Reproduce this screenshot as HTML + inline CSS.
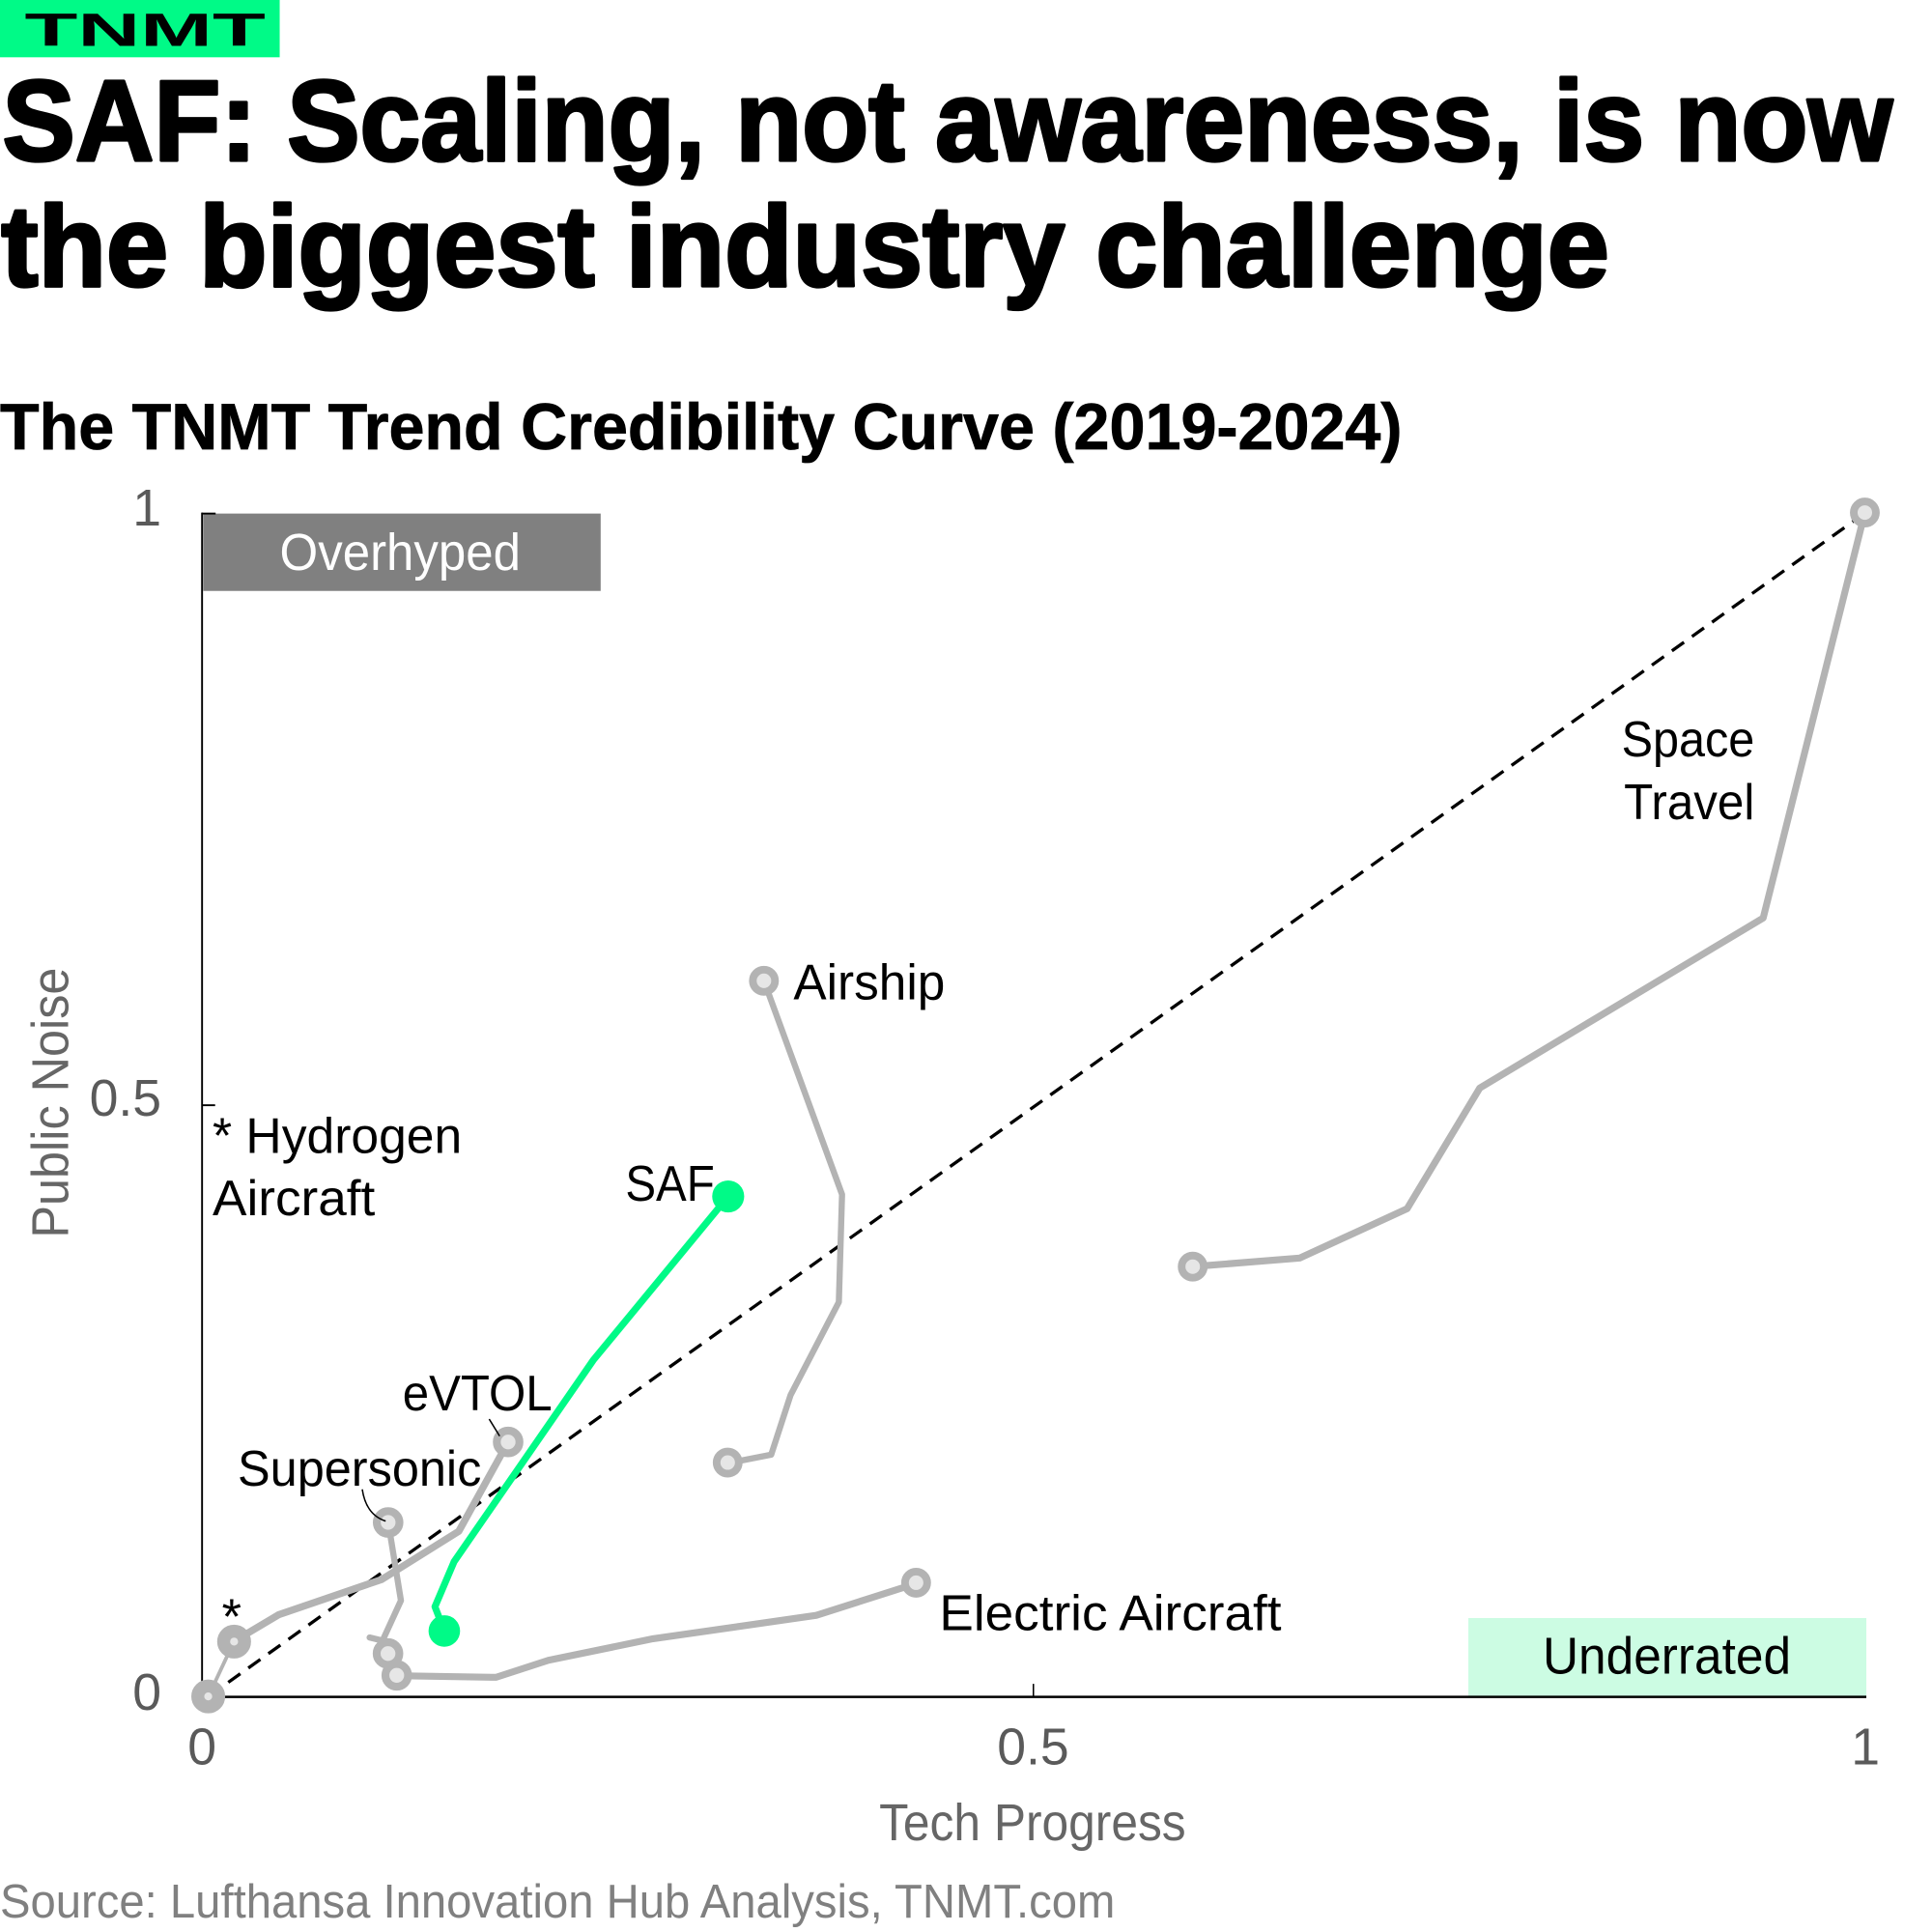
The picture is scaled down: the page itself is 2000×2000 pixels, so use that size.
<!DOCTYPE html>
<html>
<head>
<meta charset="utf-8">
<style>
  html, body { margin: 0; padding: 0; background: #ffffff; }
  svg { display: block; }
  text { font-family: "Liberation Sans", Arial, sans-serif; }
</style>
</head>
<body>
<svg xmlns="http://www.w3.org/2000/svg" width="2000" height="2000" viewBox="0 0 1568 1568">
  <rect x="0" y="0" width="1568" height="1568" fill="#ffffff"/>

  <!-- Logo -->
  <rect x="0" y="0" width="227" height="46.5" fill="#00FA87"/>
  <text x="20" y="37.4" font-size="38" font-weight="bold" fill="#000" textLength="195.5" lengthAdjust="spacingAndGlyphs">TNMT</text>

  <!-- Title -->
  <g stroke="#000" stroke-width="2.6" stroke-linejoin="round">
    <text x="2" y="130" font-size="93.5" font-weight="bold" fill="#000" textLength="1534" lengthAdjust="spacingAndGlyphs">SAF: Scaling, not awareness, is now</text>
    <text x="1" y="232" font-size="93.5" font-weight="bold" fill="#000" textLength="1305" lengthAdjust="spacingAndGlyphs">the biggest industry challenge</text>
  </g>

  <!-- Subtitle -->
  <text x="0" y="364.6" font-size="53" font-weight="bold" fill="#000" stroke="#000" stroke-width="0.6" textLength="1138" lengthAdjust="spacingAndGlyphs">The TNMT Trend Credibility Curve (2019-2024)</text>

  <!-- Quadrant boxes -->
  <rect x="165" y="416.8" width="322.5" height="62.8" fill="#808080"/>
  <text x="227" y="462.6" font-size="42" fill="#ffffff" textLength="195.6" lengthAdjust="spacingAndGlyphs">Overhyped</text>
  <rect x="1191.7" y="1313.2" width="323" height="64" fill="#CCFCE3"/>
  <text x="1252" y="1358.4" font-size="42" fill="#000" textLength="201.6" lengthAdjust="spacingAndGlyphs">Underrated</text>

  <!-- Axes -->
  <line x1="164" y1="416" x2="164" y2="1378" stroke="#000" stroke-width="1.5"/>
  <line x1="163.2" y1="1377.2" x2="1514.7" y2="1377.2" stroke="#000" stroke-width="2"/>
  <line x1="164" y1="416.8" x2="175" y2="416.8" stroke="#000" stroke-width="1.5"/>
  <line x1="164" y1="897" x2="174.6" y2="897" stroke="#000" stroke-width="1.5"/>
  <line x1="838.7" y1="1366.6" x2="838.7" y2="1377" stroke="#000" stroke-width="1.2"/>

  <!-- Tick labels -->
  <g font-size="42" fill="#5a5a5a">
    <text x="131" y="426.5" text-anchor="end">1</text>
    <text x="131" y="905.5" text-anchor="end">0.5</text>
    <text x="131" y="1387.7" text-anchor="end">0</text>
    <text x="164" y="1432" text-anchor="middle">0</text>
    <text x="838.5" y="1432" text-anchor="middle">0.5</text>
    <text x="1514" y="1432" text-anchor="middle">1</text>
  </g>

  <!-- Axis titles -->
  <text x="838" y="1493.5" font-size="42" fill="#666" text-anchor="middle" textLength="249" lengthAdjust="spacingAndGlyphs">Tech Progress</text>
  <text transform="translate(55.4,895) rotate(-90)" x="0" y="0" font-size="42" fill="#666" text-anchor="middle" textLength="219.5" lengthAdjust="spacingAndGlyphs">Public Noise</text>

  <!-- Source -->
  <text x="0" y="1556.3" font-size="38.5" fill="#808080" textLength="905" lengthAdjust="spacingAndGlyphs">Source: Lufthansa Innovation Hub Analysis, TNMT.com</text>

  <!-- Diagonal dashed line -->
  <line x1="169" y1="1377" x2="1514" y2="416" stroke="#000" stroke-width="2.6" stroke-dasharray="12 8"/>

  <!-- Gray series -->
  <g fill="none" stroke="#b3b3b3" stroke-linejoin="round" stroke-linecap="round">
    <line x1="169" y1="1377" x2="190" y2="1332" stroke-width="3"/>
    <polyline stroke-width="5.8" points="190,1332 226,1310.6 309.7,1281.9 372.4,1242.7 412.4,1170.3"/>
    <polyline stroke-width="5" points="315,1235 325.4,1299 310.5,1331.5 300,1329"/>
    <polyline stroke-width="5.6" points="322,1360 402.5,1361.3 445,1347.5 530,1330 662.5,1311 744,1285"/>
    <polyline stroke-width="5" points="620,796 683.4,969.4 680.8,1056.8 641.6,1132.3 625.9,1180.6 590.6,1187.5"/>
    <polyline stroke-width="5.6" points="968,1028 1055,1021 1142,981 1201,883 1431,745 1513.5,416"/>
  </g>

  <!-- SAF green series -->
  <polyline fill="none" stroke="#00FA87" stroke-width="5.6" stroke-linejoin="round" stroke-linecap="round" points="360.6,1323.7 353,1304 368.5,1267.5 481.4,1104 591,971"/>

  <!-- Gray markers -->
  <g fill="#e6e6e6" stroke="#b3b3b3">
    <circle cx="169" cy="1376.8" r="8.5" stroke-width="10.5"/>
    <circle cx="190" cy="1332.3" r="8.5" stroke-width="10.5"/>
    <circle cx="315" cy="1235.6" r="9.2" stroke-width="6.4"/>
    <circle cx="412.4" cy="1170.3" r="9.2" stroke-width="6.4"/>
    <circle cx="314.9" cy="1342" r="9.2" stroke-width="6.4"/>
    <circle cx="322" cy="1359.7" r="9.2" stroke-width="6.4"/>
    <circle cx="743.5" cy="1284.5" r="9" stroke-width="6.2"/>
    <circle cx="620" cy="796" r="9" stroke-width="6.2"/>
    <circle cx="590.6" cy="1187" r="9" stroke-width="6.2"/>
    <circle cx="968" cy="1028" r="9" stroke-width="6.2"/>
    <circle cx="1513.5" cy="416" r="9" stroke-width="6.2"/>
  </g>

  <!-- SAF markers -->
  <circle cx="360.6" cy="1323.7" r="12.8" fill="#00FA87"/>
  <circle cx="591" cy="971" r="13" fill="#00FA87"/>

  <!-- Leader lines -->
  <path d="M397,1151.7 L405.5,1165.5" fill="none" stroke="#000" stroke-width="1.2"/>
  <path d="M294,1208.7 C296,1222 302,1231 313,1234.5" fill="none" stroke="#000" stroke-width="1.2"/>

  <!-- Series labels -->
  <g font-size="41" fill="#000">
    <text x="1424" y="614" text-anchor="end" textLength="108" lengthAdjust="spacingAndGlyphs">Space</text>
    <text x="1424" y="665" text-anchor="end" textLength="106" lengthAdjust="spacingAndGlyphs">Travel</text>
    <text x="644" y="811" textLength="123" lengthAdjust="spacingAndGlyphs">Airship</text>
    <text x="172.5" y="935.6" textLength="202.4" lengthAdjust="spacingAndGlyphs">* Hydrogen</text>
    <text x="172.5" y="986.4" textLength="131.9" lengthAdjust="spacingAndGlyphs">Aircraft</text>
    <text x="507.5" y="974.7" textLength="72.5" lengthAdjust="spacingAndGlyphs">SAF</text>
    <text x="326.7" y="1144.6" textLength="121.5" lengthAdjust="spacingAndGlyphs">eVTOL</text>
    <text x="192.9" y="1206" textLength="197.8" lengthAdjust="spacingAndGlyphs">Supersonic</text>
    <text x="762.4" y="1323" textLength="277.6" lengthAdjust="spacingAndGlyphs">Electric Aircraft</text>
    <text x="188" y="1326" text-anchor="middle">*</text>
  </g>
</svg>
</body>
</html>
